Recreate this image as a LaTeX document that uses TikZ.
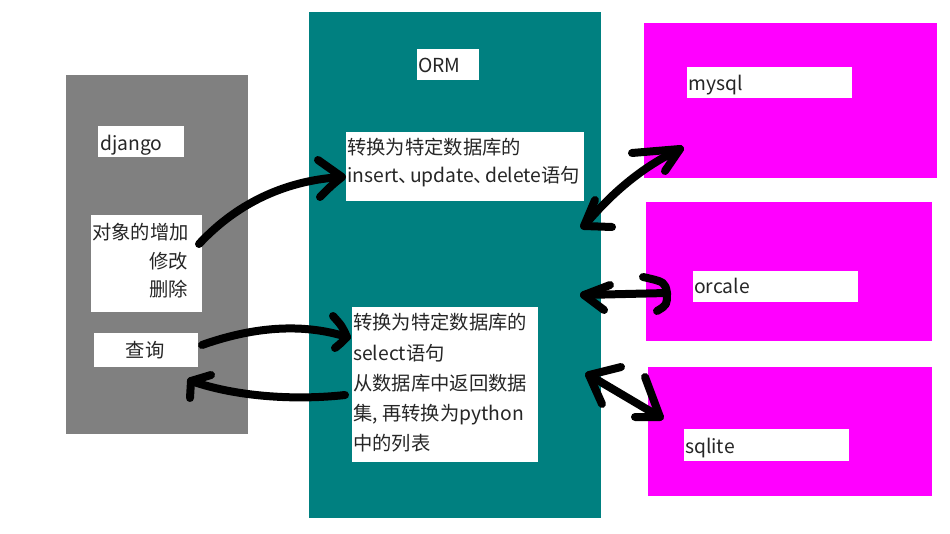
\documentclass[tikz,border=0pt]{standalone}
\usepackage{fontspec}
\setmainfont{Noto Sans CJK SC}
\definecolor{pureMagenta}{RGB}{255,0,255}
\definecolor{tealBox}{RGB}{0,128,128}
\definecolor{grayBox}{RGB}{128,128,128}
\begin{document}
\begin{tikzpicture}[x=1pt,y=-1pt,
  panel/.style={inner sep=0pt, anchor=north west},
  labelbox/.style={fill=white, inner sep=0pt, anchor=north west},
  txt/.style={inner sep=0pt, anchor=base west, text=black!85, font=\fontsize{19.3}{30}\selectfont},
  stroke/.style={line width=8pt, line cap=round, line join=round, black}
]
\useasboundingbox (0,0) rectangle (950,534);
% panels
\node[panel, fill=grayBox, minimum width=182pt, minimum height=359pt] (djp) at (66,75) {};
\node[panel, fill=tealBox, minimum width=292pt, minimum height=506pt] (ormp) at (309,12) {};
\node[panel, fill=pureMagenta, minimum width=293pt, minimum height=155pt] (myp) at (644,23) {};
\node[panel, fill=pureMagenta, minimum width=286pt, minimum height=139pt] (orp) at (646,202) {};
\node[panel, fill=pureMagenta, minimum width=284pt, minimum height=129pt] (sqp) at (648,367) {};
% white label boxes
\node[labelbox, minimum width=86pt, minimum height=31pt] (djb) at (98,126) {};
\node[labelbox, minimum width=111pt, minimum height=97pt] (objb) at (91,215) {};
\node[labelbox, minimum width=104pt, minimum height=34pt] (qb) at (94,333) {};
\node[labelbox, minimum width=62pt, minimum height=31pt] (ormb) at (417,49) {};
\node[labelbox, minimum width=238pt, minimum height=69pt] (insb) at (346,132) {};
\node[labelbox, minimum width=186pt, minimum height=155pt] (selb) at (352,307) {};
\node[labelbox, minimum width=165pt, minimum height=31pt] (myb) at (687,67) {};
\node[labelbox, minimum width=165pt, minimum height=31pt] (orb) at (693,271) {};
\node[labelbox, minimum width=165pt, minimum height=32pt] (sqb) at (684,429) {};
% texts
\node[txt] (t1) at (100,151) {django};
\node[txt] (t2) at (92,240) {对象的增加};
\node[txt, anchor=base east] (t3) at (188,269) {修改};
\node[txt, anchor=base east] (t4) at (188,297) {删除};
\node[txt, anchor=base] (t5) at (145,357) {查询};
\node[txt] (t6) at (418,73) {ORM};
\node[txt] (t7) at (347,155) {转换为特定数据库的};
\node[txt] (t8) at (347,183) {insert、\kern-8pt update、\kern-8pt delete语句};
\node[txt] (t9) at (353,330) {转换为特定数据库的};
\node[txt] (t10) at (353,360) {select语句};
\node[txt] (t11) at (353,390) {从数据库中返回数据};
\node[txt] (t12) at (353,420) {集, 再转换为python};
\node[txt] (t13) at (353,450) {中的列表};
\node[txt] (t14) at (688,91) {mysql};
\node[txt] (t15) at (694,294) {orcale};
\node[txt] (t16) at (685,453) {sqlite};
% connector end points
\coordinate (a1s) at (199,244);
\coordinate (a1t) at (342,177);
\coordinate (a2s) at (202,345);
\coordinate (a2t) at (347,337);
\coordinate (a3s) at (345,395);
\coordinate (a3t) at (191,381);
\coordinate (a4s) at (584,226);
\coordinate (a4t) at (680,149);
\coordinate (a5s) at (584,295);
\coordinate (a5t) at (667,293);
\coordinate (a6s) at (589,375);
\coordinate (a6t) at (660,417);
% arrow 1
\draw[stroke] (a1s) .. controls (240,200) and (290,180) .. (a1t);
\draw[stroke] (318,160) .. controls (330,168) .. (a1t) .. controls (332,185) .. (320,197);
% arrow 2
\draw[stroke] (a2s) .. controls (250,328) and (300,322) .. (a2t);
\draw[stroke] (333,316) .. controls (342,326) .. (a2t) .. controls (340,344) .. (335,348);
% arrow 3
\draw[stroke] (a3s) .. controls (300,400) and (240,398) .. (a3t);
\draw[stroke] (211,375) -- (a3t) -- (190,398);
% arrow 4
\draw[stroke] (a4s) .. controls (610,195) and (640,168) .. (a4t);
\draw[stroke] (595,200) -- (a4s) -- (612,227);
\draw[stroke] (632,153) -- (a4t) -- (665,171);
% arrow 5
\draw[stroke] (a5s) -- (a5t);
\draw[stroke] (610,285) -- (a5s) -- (604,310);
\draw[stroke] (643,277) .. controls (665,282) .. (a5t) .. controls (667,305) .. (657,311);
% arrow 6
\draw[stroke] (a6s) -- (a6t);
\draw[stroke] (621,367) -- (a6s) -- (602,404);
\draw[stroke] (645,377) -- (a6t) -- (635,417);
\end{tikzpicture}
\end{document}
